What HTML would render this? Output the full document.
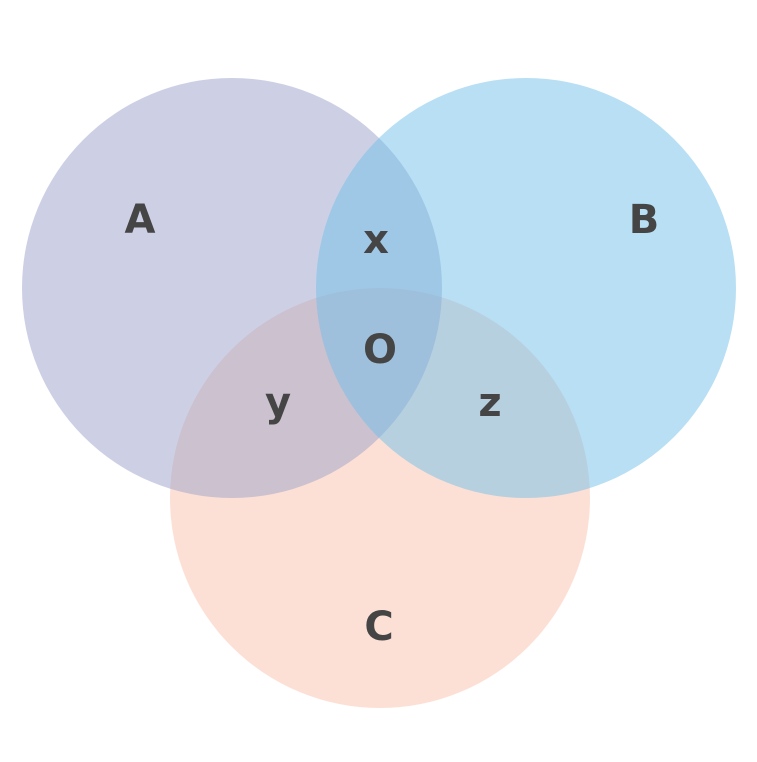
<!DOCTYPE html>
<html><head><meta charset="utf-8"><style>
html,body{margin:0;padding:0;background:#fff}
text{font-family:"DejaVu Sans","Liberation Sans",sans-serif;font-weight:bold;fill:#454545;font-size:40px;text-anchor:middle;dominant-baseline:central}
</style></head><body>
<svg width="757" height="757">
<g id="circles"></g>
<g id="labels"></g>
</svg>
<script>
const setNames=['A','B','C'];
const centersX=[232,526,380];
const centersY=[288,288,498];
const radii=[210,210,210];
const fills=['#9ba1c9','#71bfe9','#fbc1ab'];
const regionLabels=['A','B','C','x','y','z','O'];
const labelX=[140,644,379,376,278,490,380];
const labelY=[220,220,627,240,403,403,350];
const ns='http://www.w3.org/2000/svg';
const g=document.getElementById('circles');
[2,0,1].forEach(i=>{
  const c=document.createElementNS(ns,'circle');
  c.setAttribute('cx',centersX[i]);c.setAttribute('cy',centersY[i]);c.setAttribute('r',radii[i]);
  c.setAttribute('fill',fills[i]);c.setAttribute('fill-opacity','0.5');
  
  
  g.appendChild(c);
});
const lg=document.getElementById('labels');
regionLabels.forEach((t,i)=>{
  const e=document.createElementNS(ns,'text');
  e.setAttribute('x',labelX[i]);e.setAttribute('y',labelY[i]);
  e.textContent=t;
  
  
  lg.appendChild(e);
});
</script>
</body></html>
